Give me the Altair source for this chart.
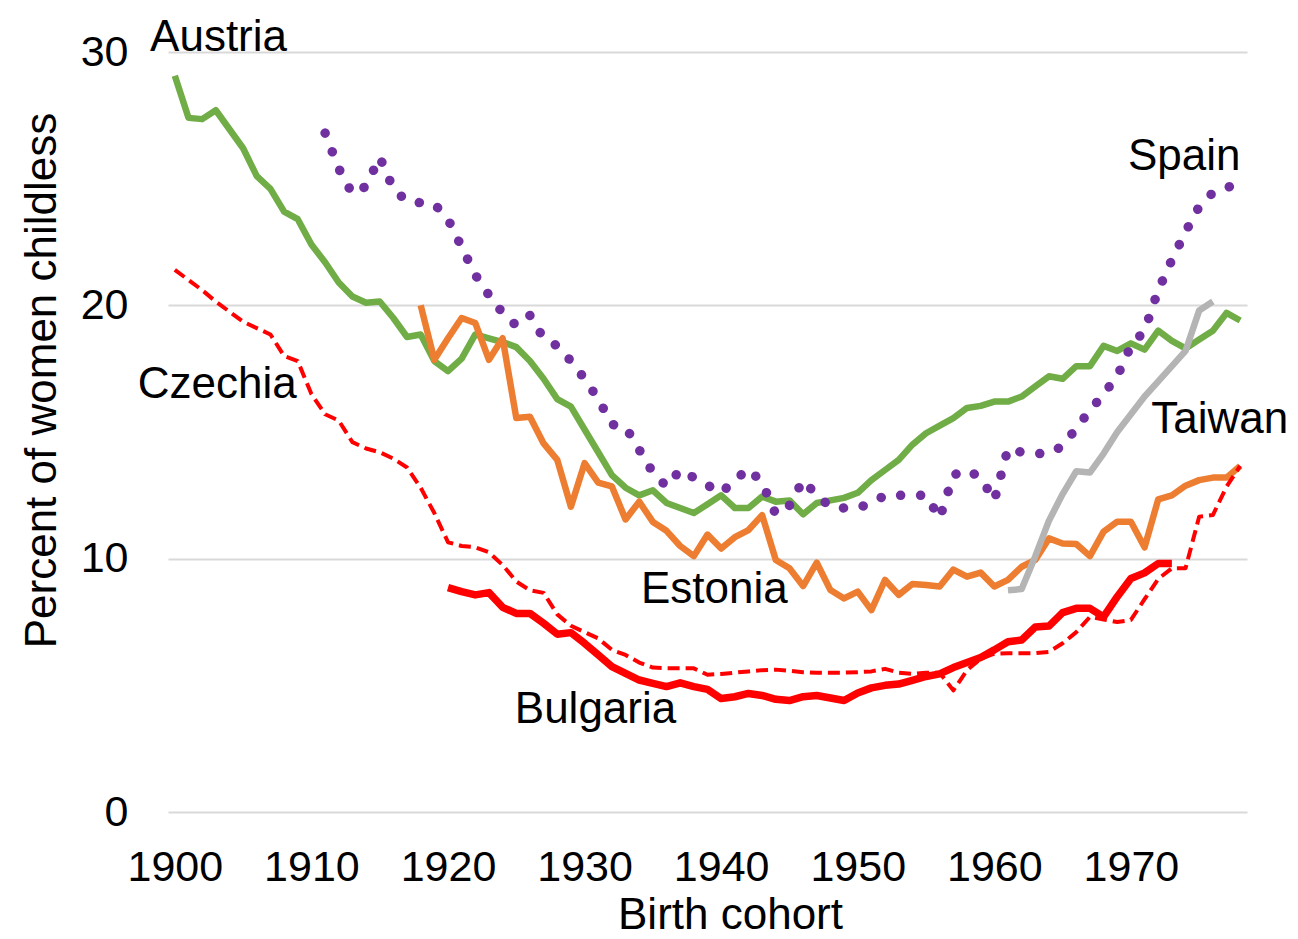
import altair as alt
import pandas as pd

FONT = "Liberation Sans"

# ---------------- data ----------------
austria_years = list(range(1900, 1979))
austria = [
    29.06, 27.4, 27.35, 27.7, 26.95, 26.2, 25.1, 24.6, 23.7, 23.4,
    22.4, 21.7, 20.9, 20.35, 20.1, 20.15, 19.5, 18.75, 18.85, 17.8,
    17.4, 17.9, 18.85, 18.7, 18.55, 18.35, 17.8, 17.1, 16.3, 16.0,
    15.1, 14.2, 13.3, 12.8, 12.5, 12.7, 12.2, 12.0, 11.8, 12.15,
    12.5, 12.0, 12.0, 12.45, 12.25, 12.3, 11.75, 12.2, 12.3, 12.4,
    12.6, 13.1, 13.5, 13.9, 14.5, 14.95, 15.25, 15.55, 15.95, 16.03,
    16.2, 16.2, 16.4, 16.8, 17.2, 17.1, 17.6, 17.6, 18.4, 18.2,
    18.5, 18.25, 19.0, 18.6, 18.3, 18.65, 19.0, 19.7, 19.4,
]

czechia_years = list(range(1900, 1979))
czechia = [
    21.4, 21.0, 20.6, 20.15, 19.75, 19.35, 19.1, 18.85, 18.0, 17.8,
    16.5, 15.7, 15.45, 14.6, 14.35, 14.2, 13.95, 13.6, 12.8, 11.8,
    10.65, 10.5, 10.45, 10.25, 9.75, 9.1, 8.75, 8.65, 7.8, 7.35,
    7.1, 6.85, 6.4, 6.2, 5.9, 5.7, 5.67, 5.67, 5.67, 5.42,
    5.45, 5.5, 5.55, 5.6, 5.62, 5.58, 5.52, 5.5, 5.5, 5.5,
    5.52, 5.55, 5.65, 5.5, 5.45, 5.5, 5.5, 4.8, 5.6, 6.05,
    6.25, 6.27, 6.27, 6.27, 6.32, 6.66, 7.1, 7.7, 7.6, 7.5,
    7.58, 8.4, 9.2, 9.62, 9.62, 11.66, 11.72, 12.84, 13.66,
]

spain_years = list(range(1911, 1979))
spain = [
    26.8, 25.4, 24.4, 24.7, 25.85, 24.6, 24.1, 24.05, 24.0,
    23.4, 22.3, 21.2, 20.4, 19.7, 19.2, 19.6, 18.7, 18.4, 17.8,
    17.1, 16.3, 15.3, 15.2, 14.3, 13.4, 12.85, 13.5, 13.2, 12.9,
    12.6, 13.1, 13.55, 13.0, 11.75, 12.1, 13.1, 12.5, 12.05, 12.0,
    12.0, 12.2, 12.5, 12.5, 12.5, 12.5, 11.6, 13.3, 13.5, 13.2,
    12.3, 14.35, 14.2, 14.15, 14.15, 14.45, 15.15, 15.85, 16.5, 17.2,
    18.4, 19.0, 20.6, 21.8, 22.9, 23.9, 24.45, 24.65, 24.8,
]

estonia_years = list(range(1918, 1979))
estonia = [
    20.0, 17.85,
    18.7, 19.5, 19.3, 17.85, 18.7, 15.55, 15.6, 14.55, 13.9, 12.05,
    13.77, 13.0, 12.85, 11.55, 12.25, 11.45, 11.1, 10.5, 10.1, 10.95,
    10.4, 10.85, 11.13, 11.72, 9.95, 9.62, 8.92, 9.84, 8.76, 8.43,
    8.7, 7.97, 9.16, 8.57, 9.0, 8.96, 8.9, 9.57, 9.29, 9.45,
    8.9, 9.16, 9.68, 9.95, 10.8, 10.6, 10.58, 10.1, 11.07, 11.46,
    11.46, 10.45, 12.34, 12.5, 12.88, 13.1, 13.2, 13.2, 13.66,
]

bulgaria_years = list(range(1920, 1974))
bulgaria = [
    8.86, 8.7, 8.57, 8.66, 8.08, 7.84, 7.84, 7.45, 7.02, 7.08,
    6.66, 6.2, 5.74, 5.47, 5.21, 5.08, 4.95, 5.1, 4.95, 4.84,
    4.48, 4.55, 4.68, 4.6, 4.45, 4.4, 4.55, 4.6, 4.5, 4.4,
    4.7, 4.9, 5.0, 5.05, 5.2, 5.35, 5.45, 5.7, 5.9, 6.1,
    6.4, 6.72, 6.79, 7.3, 7.34, 7.87, 8.04, 8.04, 7.7, 8.5,
    9.22, 9.44, 9.81, 9.81,
]

taiwan_years = list(range(1961, 1977))
taiwan = [8.75, 8.8, 10.1, 11.5, 12.55, 13.45, 13.4, 14.15, 15.0, 15.7,
          16.4, 17.0, 17.6, 18.2, 19.8, 20.15]

x_ticks = [1900, 1910, 1920, 1930, 1940, 1950, 1960, 1970]
y_ticks = [0, 10, 20, 30]

label_names = ["Austria", "Spain", "Czechia", "Taiwan", "Estonia", "Bulgaria"]
label_years = [1903.2, 1973.9, 1903.1, 1976.5, 1939.5, 1930.8]
label_values = [30.05, 25.35, 16.35, 14.95, 8.25, 3.5]


def frame(years, values):
    return pd.DataFrame({"year": years, "value": values})


x_enc = alt.X(
    "year:Q",
    scale=alt.Scale(domain=[1899.5, 1978.5], nice=False, zero=False),
    axis=alt.Axis(
        values=x_ticks, format="d", title="Birth cohort", grid=False,
        domain=False, ticks=False, labelFontSize=43, labelPadding=34,
        labelFont=FONT, labelColor="black", labelFlush=False,
        labelOverlap=False, titleFont=FONT, titleFontSize=44,
        titleFontWeight="normal", titleColor="black", titleX=562,
        titleY=116, titleBaseline="alphabetic", titleAlign="center",
    ),
)
y_enc = alt.Y(
    "value:Q",
    scale=alt.Scale(domain=[0, 30], nice=False),
    axis=alt.Axis(
        values=y_ticks, title="Percent of women childless", grid=True,
        gridColor="#d9d9d9", gridWidth=2, domain=False, ticks=False,
        labelFontSize=43, labelPadding=40, labelFont=FONT,
        labelColor="black", titleFont=FONT, titleFontSize=44,
        titleFontWeight="normal", titleColor="black", titleX=-113,
        titleY=328, titleAngle=270, titleBaseline="alphabetic",
        titleAlign="center",
    ),
)


def line(df, color, width, dash=None, cap="butt"):
    kw = dict(color=color, strokeWidth=width, strokeJoin="round",
              strokeCap=cap, clip=False)
    if dash is not None:
        kw["strokeDash"] = dash
    return alt.Chart(df).mark_line(**kw).encode(x=x_enc, y=y_enc)


layers = [
    line(frame(austria_years, austria), "#70AD47", 6.5),
    line(frame(estonia_years, estonia), "#ED7D31", 6.5),
    line(frame(czechia_years, czechia), "#FF0000", 4, dash=[12, 6]),
    line(frame(bulgaria_years, bulgaria), "#FF0000", 7.5),
    line(frame(taiwan_years, taiwan), "#B4B4B4", 6.5),
    line(frame(spain_years, spain), "#7030A0", 9.5, dash=[0.1, 19.9], cap="round"),
]

labels = pd.DataFrame({"label": label_names, "year": label_years, "value": label_values})
text = alt.Chart(labels).mark_text(
    font=FONT, fontSize=44, color="black", align="center",
    baseline="alphabetic", clip=False,
).encode(x=alt.X("year:Q"), y=alt.Y("value:Q"), text="label:N")

chart = alt.layer(*layers, text).properties(
    width=1079, height=760,
    autosize=alt.AutoSizeParams(type="none"),
    padding={"left": 160, "top": 44, "right": 43, "bottom": 119},
).configure_view(stroke=None)

chart.save("out.html", embed_options={"renderer": "svg", "actions": False})
